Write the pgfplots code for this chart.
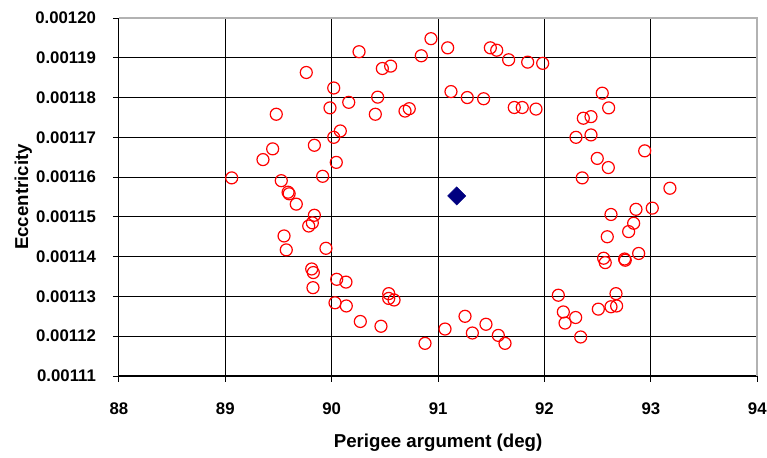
\documentclass[border=0pt]{standalone}
\usepackage{fontspec}
\setmainfont{Liberation Sans}
\usepackage{pgfplots}
\pgfplotsset{compat=1.18}

\begin{document}
\begin{tikzpicture}
\begin{axis}[
    scale only axis,
    width=478.8pt, height=268.5pt,
    xmin=88, xmax=94,
    ymin=0.00111, ymax=0.00120,
    axis x line=bottom, axis y line=left,
    axis line style={-, black, line width=0.8pt},
    xtick={88,89,90,91,92,93,94},
    ytick={0.00111,0.00112,0.00113,0.00114,0.00115,0.00116,0.00117,0.00118,0.00119,0.00120},
    scaled y ticks=false,
    grid=major,
    major grid style={black, line width=0.7pt},
    tick align=outside,
    major tick length=4.5pt,
    tick style={black, line width=0.7pt},
    ticklabel style={font=\fontsize{12.6}{15}\selectfont\bfseries, inner sep=0pt},
    xticklabel style={yshift=-15.5pt, /pgf/number format/assume math mode=true},
    yticklabel style={xshift=-12.5pt, /pgf/number format/.cd, fixed, fixed zerofill, precision=5, assume math mode=true},
    xlabel={Perigee argument (deg)},
    ylabel={Eccentricity},
    label style={font=\fontsize{14}{16}\selectfont\bfseries},
    xlabel style={at={(axis description cs:0.5,-0.186)}, anchor=center},
    ylabel style={at={(axis description cs:-0.15,0.5)}, anchor=center},
    clip=false,
]
% measured points
\addplot[only marks, mark=o, mark size=4.5pt, mark options={red, line width=0.9pt}] table {
x y
90.257 0.00119152
90.554 0.00118790
90.476 0.00118730
89.761 0.00118630
90.019 0.00118240
90.432 0.00118010
90.160 0.00117880
89.984 0.00117740
90.410 0.00117580
89.479 0.00117580
90.081 0.00117160
90.019 0.00117000
89.837 0.00116800
89.445 0.00116710
89.354 0.00116440
90.043 0.00116370
89.060 0.00115980
89.526 0.00115910
89.915 0.00116020
89.600 0.00115580
89.590 0.00115620
89.667 0.00115320
89.837 0.00115040
89.818 0.00114850
89.784 0.00114770
89.552 0.00114520
89.573 0.00114170
89.946 0.00114210
89.812 0.00113690
89.827 0.00113600
89.824 0.00113220
90.047 0.00113430
90.134 0.00113360
90.031 0.00112840
90.137 0.00112760
90.536 0.00113070
90.536 0.00112950
90.586 0.00112910
90.269 0.00112370
90.463 0.00112250
90.877 0.00111820
91.065 0.00112180
91.253 0.00112500
91.322 0.00112080
91.450 0.00112300
91.566 0.00112020
91.629 0.00111820
92.130 0.00113030
92.177 0.00112610
92.193 0.00112330
92.293 0.00112470
92.340 0.00111980
92.506 0.00112680
92.625 0.00112740
92.678 0.00112760
92.672 0.00113070
92.556 0.00113960
92.571 0.00113850
92.753 0.00113940
92.759 0.00113910
92.885 0.00114080
92.590 0.00114500
92.791 0.00114630
92.838 0.00114840
92.625 0.00115060
92.860 0.00115190
93.013 0.00115220
93.179 0.00115720
92.355 0.00115980
92.600 0.00116240
92.496 0.00116470
92.942 0.00116660
92.296 0.00117000
92.437 0.00117060
92.365 0.00117480
92.437 0.00117520
92.543 0.00118110
92.603 0.00117740
91.920 0.00117710
91.791 0.00117750
91.716 0.00117750
91.428 0.00117970
91.274 0.00118000
91.121 0.00118150
90.689 0.00117660
90.729 0.00117720
90.842 0.00119050
90.933 0.00119480
91.090 0.00119250
91.491 0.00119250
91.551 0.00119190
91.663 0.00118950
91.842 0.00118890
91.983 0.00118860
};
% mean
\addplot[only marks, mark=square*, mark size=4.8pt, mark options={rotate=45, fill=blue!50!black, draw=blue!50!black}] coordinates {(91.175,0.00115527)};
\draw[gray!60, line width=1.2pt] (rel axis cs:0,1) -- (rel axis cs:1,1) -- (rel axis cs:1,0);
\end{axis}
\pgfresetboundingbox
\path ([shift={(-89.2pt,-61.5pt)}]current axis.south west) rectangle ([shift={(7.3pt,13.5pt)}]current axis.north east);
\end{tikzpicture}
\end{document}
